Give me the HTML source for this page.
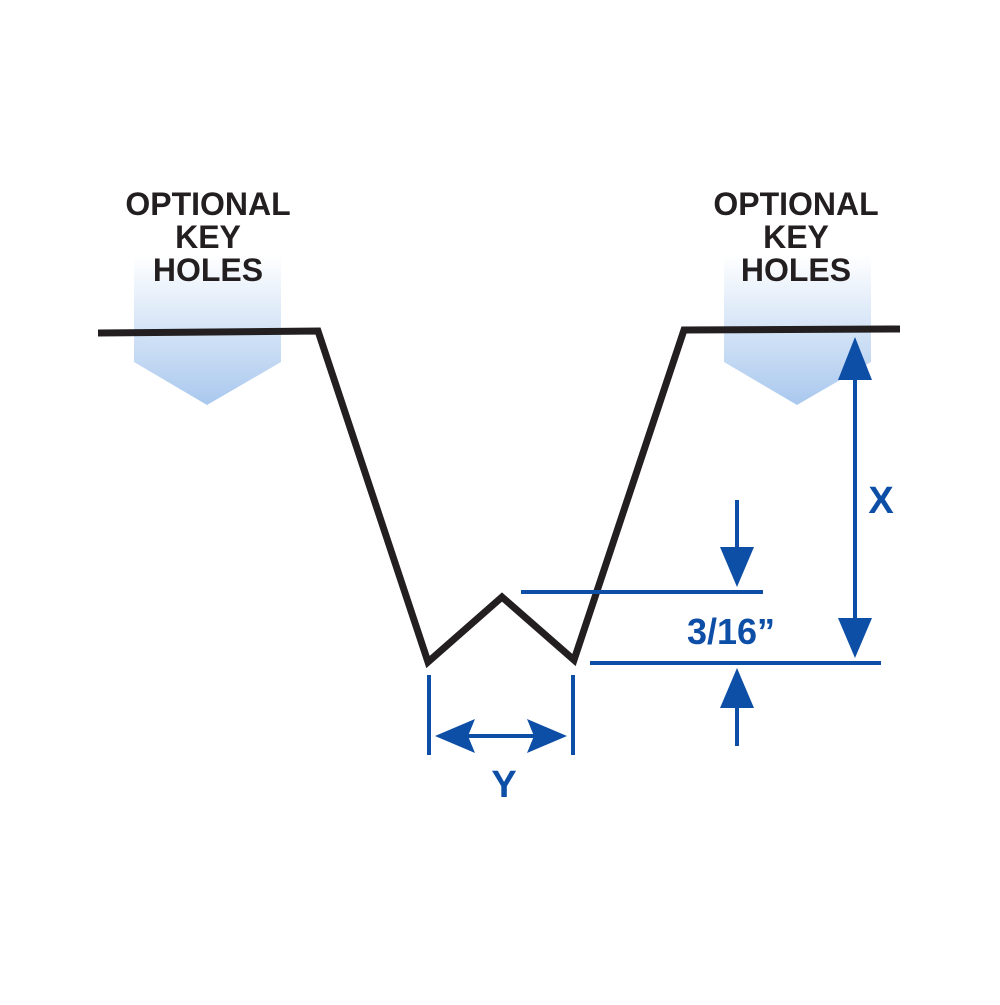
<!DOCTYPE html>
<html><head><style>html,body{margin:0;padding:0;background:#fff}</style></head><body>
<svg width="1000" height="1000" viewBox="0 0 1000 1000" xmlns="http://www.w3.org/2000/svg">
<defs>
<linearGradient id="g" x1="0" y1="0" x2="0" y2="1">
<stop offset="0" stop-color="#ffffff"/>
<stop offset="1" stop-color="#a9c8ee"/>
</linearGradient>
</defs>
<polygon points="134,255 281,255 281,362 207,405 134,362" fill="url(#g)"/>
<polygon points="724,255 871,255 871,362 797,405 724,362" fill="url(#g)"/>
<g font-family="Liberation Sans, sans-serif" font-weight="bold" font-size="32" text-anchor="middle" fill="#231f20">
<text x="208" y="215">OPTIONAL</text>
<text x="208" y="248">KEY</text>
<text x="208" y="281">HOLES</text>
<text x="796" y="215">OPTIONAL</text>
<text x="796" y="248">KEY</text>
<text x="796" y="281">HOLES</text>
</g>
<polyline points="98,333 318,331 428,662 502,597 574,660 684,330 900,329" fill="none" stroke="#231f20" stroke-width="7" stroke-linejoin="miter"/>
<g stroke="#0d4ea6" stroke-width="4" fill="none">
<line x1="521" y1="592" x2="763" y2="592"/>
<line x1="590" y1="663" x2="881" y2="663"/>
<line x1="737" y1="500" x2="737" y2="560"/>
<line x1="737" y1="700" x2="737" y2="746"/>
<line x1="855" y1="370" x2="855" y2="630"/>
<line x1="429" y1="675" x2="429" y2="755"/>
<line x1="573" y1="675" x2="573" y2="755"/>
<line x1="460" y1="736" x2="540" y2="736"/>
</g>
<g fill="#0d4ea6">
<polygon points="720,547 754,547 737,587"/>
<polygon points="720,708 754,708 737,668"/>
<polygon points="838,380 872,380 855,337"/>
<polygon points="838,618 872,618 855,658"/>
<polygon points="435,736 475,719 468,736 475,753"/>
<polygon points="567,736 527,719 534,736 527,753"/>
</g>
<g font-family="Liberation Sans, sans-serif" font-weight="bold" text-anchor="middle" fill="#0d4ea6">
<text x="881" y="513" font-size="38">X</text>
<text x="731" y="644" font-size="36">3/16”</text>
<text x="504" y="797" font-size="38">Y</text>
</g>
</svg>
</body></html>
